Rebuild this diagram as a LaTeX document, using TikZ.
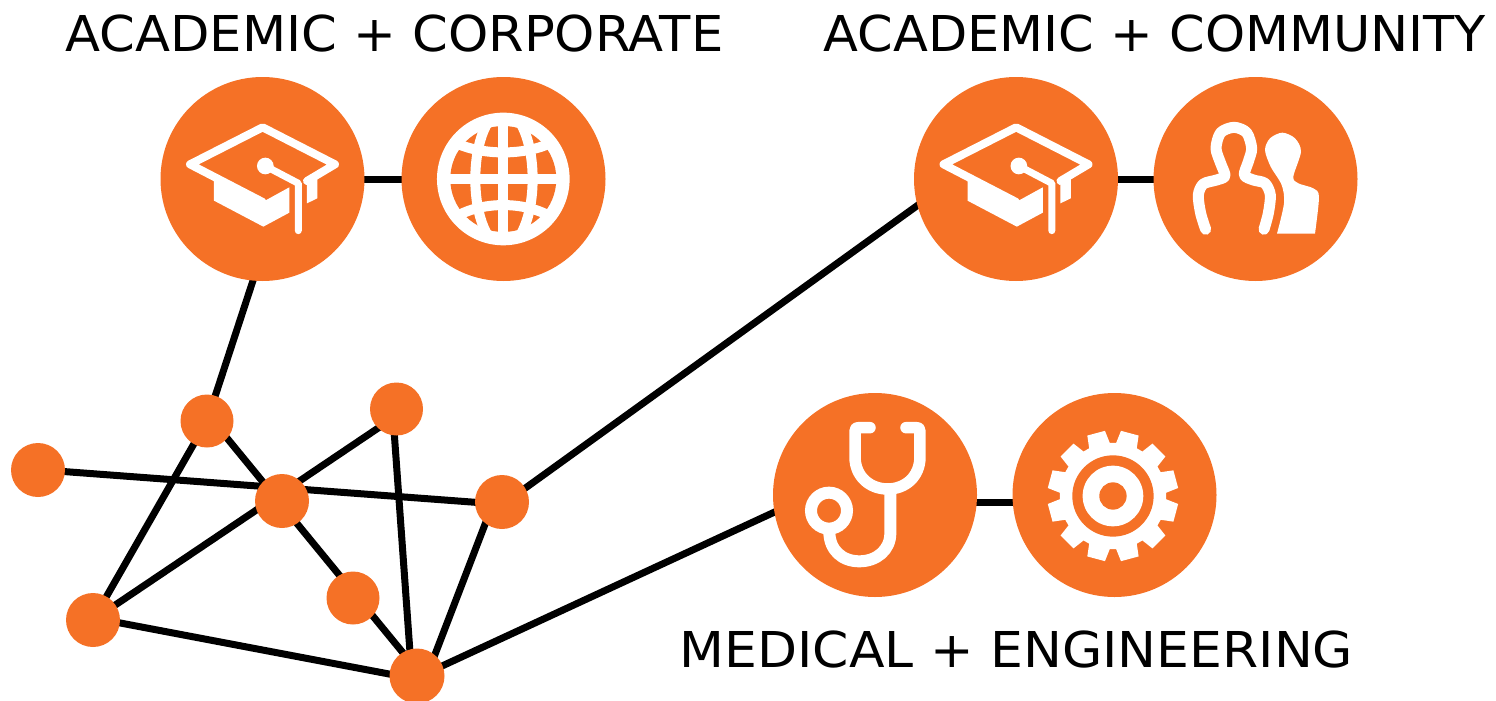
\documentclass[tikz,border=0pt]{standalone}
\usepackage{fontspec}
\setmainfont{DejaVu Sans}
\usetikzlibrary{backgrounds,calc}
\definecolor{accent}{RGB}{245,113,38}
\tikzset{
  x=1pt,y=-1pt,
  big/.style={circle,fill=accent,minimum size=204pt,inner sep=0pt,outer sep=0pt},
  dot/.style={circle,fill=accent,minimum size=#1pt,inner sep=0pt,outer sep=0pt},
  dot/.default=54,
  link/.style={draw=black,line width=7pt},
  title/.style={font=\fontsize{49.4}{56}\selectfont,text=black,inner sep=0pt,anchor=base},
  ico/.style={draw=white,line join=round,line cap=round},
}
\newcommand{\capicon}{%
  \fill[white] (162,322)--(308,396)--(388,352)--(388,428)--(310,470)--(162,392)--cycle;
  \draw[ico,line width=8pt] (308,396) -- (90,283) -- (308,172) -- (525,283) -- (441,333);
  \fill[white] (441,322)--(472,306)--(472,385)--(441,400)--cycle;
  \fill[white] (316,288) circle (25);
  \draw[ico,line width=7pt,line join=round] (316,288) -- (415,340) -- (415,482);
}
\begin{document}
\begin{tikzpicture}
\useasboundingbox (0,0) rectangle (1496,701);
\node[big] (ac1) at (262.5,179) {};
\node[big] (ac2) at (503.5,179) {};
\node[big] (am1) at (1016,179) {};
\node[big] (am2) at (1255.5,179) {};
\node[big] (me1) at (875,495) {};
\node[big] (me2) at (1114.5,495) {};
\node[dot=53] (n1) at (207,421) {};
\node[dot=53] (n2) at (396.5,409) {};
\node[dot] (n3) at (38,470) {};
\node[dot] (n4) at (282,501) {};
\node[dot] (n5) at (502,502) {};
\node[dot] (n6) at (93,620) {};
\node[dot=53] (n7) at (353,598) {};
\node[dot=55] (n8) at (417,676) {};
\coordinate (e1) at (263,250);
\coordinate (e2) at (950,182);
\coordinate (e3) at (820,491);
\coordinate (e4) at (875,502);
\coordinate (e5) at (1114,502);
\begin{pgfonlayer}{background}
\draw[link] (ac1.center) -- (ac2.center);
\draw[link] (am1.center) -- (am2.center);
\draw[link] (e4) -- (e5);
\draw[link] (e1) -- (n1.center);
\draw[link] ($(n5.center)+(0,2.9)$) -- (e2);
\draw[link] ($(n8.center)+(0,1.6)$) -- (e3);
\draw[link] (n1.center) -- (n6.center);
\draw[link] ($(n1.center)+(6,0)$) -- ($(n8.center)+(5,0)$);
\draw[link] ($(n3.center)+(0,-0.4)$) -- ($(n5.center)+(0,2.3)$);
\draw[link] ($(n2.center)+(0,6.7)$) -- (n6.center);
\draw[link] ($(n2.center)+(-4,0)$) -- ($(n8.center)+(-5.3,0)$);
\draw[link] ($(n5.center)+(-8.4,0)$) -- ($(n8.center)+(9.7,0)$);
\draw[link] ($(n6.center)+(0,-2.2)$) -- ($(n8.center)+(0,3.3)$);
\end{pgfonlayer}
\node[title] (t1) at (394.5,51.5) {\scalebox{1.036}[1]{ACADEMIC + CORPORATE}};
\node[title] (t2) at (1155,51.5) {\scalebox{1.032}[1]{ACADEMIC + COMMUNITY}};
\node[title] (t3) at (1016.5,667.5) {\scalebox{1.053}[1]{MEDICAL + ENGINEERING}};
% caps
\begin{scope}[shift={(160,70)},x=0.3333pt,y=-0.3333pt]\capicon\end{scope}
\begin{scope}[shift={(913.5,70)},x=0.3333pt,y=-0.3333pt]\capicon\end{scope}
% globe
\begin{scope}[shift={(160,70)},x=0.3333pt,y=-0.3333pt]
\fill[white] (1030,327) circle (199);
\fill[accent] (1030,327) circle (159);
\begin{scope}
\clip (1030,327) circle (165);
\draw[white,line width=10.5pt] (860,327) -- (1200,327);
\draw[white,line width=10pt] (1030,150) -- (1030,500);
\draw[white,line width=10pt] (1032,327) ellipse (86 and 205);
\draw[white,line width=10pt] (880,215) .. controls (960,258) and (1100,258) .. (1180,215);
\draw[white,line width=10pt] (880,445) .. controls (960,392) and (1100,392) .. (1180,445);
\end{scope}
\end{scope}
% people
\begin{scope}[shift={(1150,70)},x=0.3333pt,y=-0.3333pt]
\draw[ico,line width=11pt] plot[smooth,tension=0.5] coordinates {(167,478) (152,430) (145,375) (160,342) (200,330) (225,318) (212,280) (198,235) (212,188) (252,172) (290,188) (305,235) (295,275) (283,315) (310,330) (345,340) (361,375) (355,430) (342,478)};
\fill[white] plot[smooth,tension=0.5] coordinates {(381,491) (402,400) (395,345) (362,290) (345,240) (360,205) (397,188) (435,205) (453,245) (430,320) (445,340) (490,355) (507,380) (495,491)} -- cycle;
\end{scope}
% stethoscope
\begin{scope}[shift={(770,390)},x=0.3333pt,y=-0.3333pt]
\draw[ico,line width=11.5pt] (300,113) -- (268,113) .. controls (258,113) and (255,116) .. (255,125) -- (255,200) .. controls (255,260) and (300,297) .. (353,297) .. controls (406,297) and (450,260) .. (450,200) -- (450,125) .. controls (450,116) and (447,113) .. (437,113) -- (408,113);
\draw[ico,line width=12pt,line cap=butt] (361,297) -- (361,430) .. controls (361,480) and (320,514) .. (268,514) .. controls (216,514) and (178,480) .. (178,425);
\draw[white,line width=12pt] (177,362) circle (54);
\end{scope}
% gear
\begin{scope}[shift={(770,390)},x=0.3333pt,y=-0.3333pt]
\begin{scope}[shift={(1029,318)}]
\fill[white] (5:160) \foreach \a in {15,45,...,345} { -- (\a-11.5:160) -- (\a-8:197) -- (\a+8:197) -- (\a+11.5:160) } -- cycle;
\fill[accent] (0,0) circle (122);
\fill[white] (0,0) circle (91);
\fill[accent] (0,0) circle (41);
\end{scope}
\end{scope}
\end{tikzpicture}
\end{document}
